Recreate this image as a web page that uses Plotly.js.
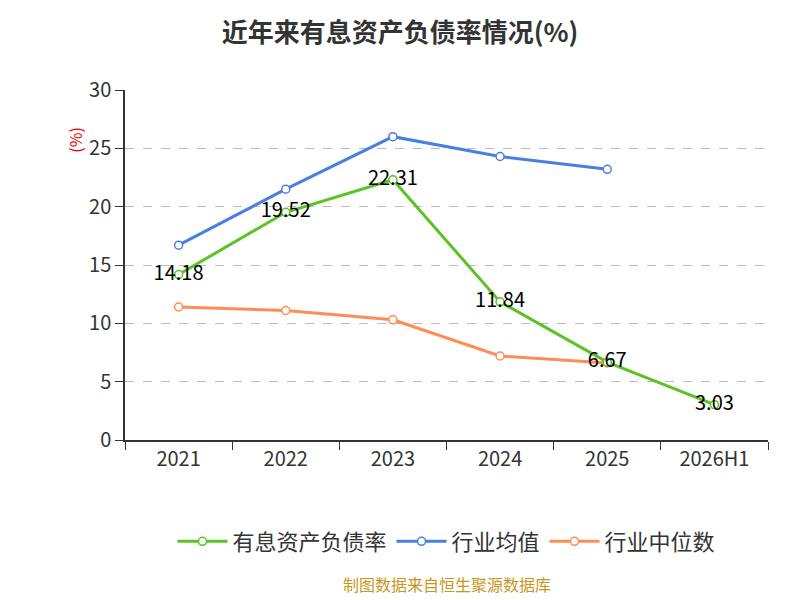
<!DOCTYPE html>
<html><head><meta charset="utf-8">
<script src="https://cdn.plot.ly/plotly-3.0.1.min.js"></script>
<style>body{margin:0}#chart{width:800px;height:600px}</style>
</head><body><div id="chart"></div>
<script>
var categories = ['2021', '2022', '2023', '2024', '2025', '2026H1'];
var debtRatio = [14.18, 19.52, 22.31, 11.84, 6.67, 3.03];
var industryAvg = [16.7, 21.5, 26.0, 24.3, 23.2];
var industryMedian = [11.4, 11.1, 10.3, 7.2, 6.6];
var font = 'Noto Sans CJK SC, Noto Sans, sans-serif';

function series(name, y, color, labels) {
    return {
        x: categories.slice(0, y.length), y: y, name: name,
        mode: labels ? 'lines+markers+text' : 'lines+markers',
        text: labels ? y.map(function (v) { return v.toFixed(2); }) : undefined,
        textposition: 'middle center',
        textfont: {size: 20, color: '#000', family: font},
        line: {color: color, width: 3},
        marker: {size: 8, color: '#fff', line: {color: color, width: 1.5}}
    };
}

var traces = [
    series('行业均值', industryAvg, '#4a7fe0', false),
    series('行业中位数', industryMedian, '#ff8c55', false),
    series('有息资产负债率', debtRatio, '#5cc326', true)
];
traces[0].legendrank = 2; traces[1].legendrank = 3; traces[2].legendrank = 1;

var layout = {
    width: 800, height: 600,
    margin: {l: 125, r: 32, t: 90, b: 160},
    paper_bgcolor: '#fff', plot_bgcolor: '#fff',
    font: {family: font, size: 20, color: '#333'},
    title: {text: '<b>近年来有息资产负债率情况(%)</b>', x: 0.5, y: 0.96, font: {size: 26, color: '#333'}},
    xaxis: {type: 'category', range: [-0.5, 5.5], showline: true, linecolor: '#333', linewidth: 1.5,
        ticks: 'outside', tickson: 'boundaries', ticklen: 8, tickcolor: '#333', showgrid: false, tickfont: {size: 20}},
    yaxis: {range: [0, 30], dtick: 5, showline: true, linecolor: '#333', linewidth: 1.5,
        ticks: 'outside', ticklen: 8, tickcolor: '#333', zeroline: false,
        gridcolor: '#bbb', griddash: 'dash', tickfont: {size: 20}},
    legend: {orientation: 'h', x: 0.5, xanchor: 'center', y: -0.23, traceorder: 'normal',
        font: {size: 22, color: '#333'}, itemwidth: 50},
    showlegend: true,
    annotations: [
        {text: '(%)', xref: 'paper', yref: 'paper', x: -0.1, y: 0.9, textangle: -90,
            showarrow: false, font: {size: 16, color: '#e00'}},
        {text: '制图数据来自恒生聚源数据库', xref: 'paper', yref: 'paper', x: 0.5, y: -0.45,
            showarrow: false, font: {size: 16, color: '#c8961e'}}]
};
Plotly.newPlot('chart', traces, layout, {displayModeBar: false});
</script></body></html>
